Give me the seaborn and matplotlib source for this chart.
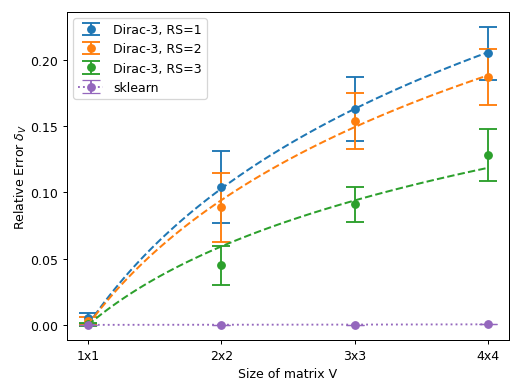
import numpy as np
import pandas as pd
import matplotlib
matplotlib.use("Agg")
import matplotlib.pyplot as plt
import seaborn as sns

sizes = ["1x1", "2x2", "3x3", "4x4"]
matrix_n = [1, 2, 3, 4]

rs1_mean = [0.005, 0.104, 0.163, 0.205]
rs1_err = [0.004, 0.027, 0.024, 0.020]
rs2_mean = [0.003, 0.089, 0.154, 0.187]
rs2_err = [0.003, 0.026, 0.021, 0.021]
rs3_mean = [0.0005, 0.045, 0.091, 0.128]
rs3_err = [0.001, 0.015, 0.013, 0.0195]
sk_mean = [0.0002, 0.0003, 0.0004, 0.0006]
sk_err = [0.0, 0.0, 0.0, 0.0]

labels = ["Dirac-3, RS=1", "Dirac-3, RS=2", "Dirac-3, RS=3", "sklearn"]
colors = ["#1f77b4", "#ff7f0e", "#2ca02c", "#9467bd"]

dpi = 90
fig, ax = plt.subplots(figsize=(523 / dpi, 393 / dpi), dpi=dpi)
fig.subplots_adjust(left=0.128, right=0.973, top=0.967, bottom=0.132)

x = np.arange(len(sizes))
ln_n = np.log(np.array(matrix_n, dtype=float))

# fitted logarithmic trend curves (a * ln n), least squares on the means
xs = np.linspace(0, len(sizes) - 1, 100)
fit_frames = []
for lab, m in zip(labels[:3], [rs1_mean, rs2_mean, rs3_mean]):
    m = np.array(m)
    a = np.sum(m * ln_n) / np.sum(ln_n ** 2)
    fit_frames.append(pd.DataFrame({"x": xs, "y": a * np.log(xs + 1), "series": lab}))
fits = pd.concat(fit_frames)
sns.lineplot(data=fits, x="x", y="y", hue="series", palette=colors[:3],
             linestyle="--", linewidth=1.6, ax=ax, legend=False, zorder=3)

series = [rs1_mean, rs2_mean, rs3_mean]
errs = [rs1_err, rs2_err, rs3_err]
for m, e, lab, c in zip(series, errs, labels[:3], colors[:3]):
    ax.errorbar(x, m, yerr=e, fmt="o", color=c, capsize=7, markersize=6,
                elinewidth=1.5, capthick=1.5, label=lab, zorder=2)
ax.errorbar(x, sk_mean, yerr=sk_err, fmt="o:", color=colors[3], capsize=7,
            markersize=6, linewidth=1.5, label=labels[3], zorder=4)

ax.set_xticks(x)
ax.set_xticklabels(sizes)
ax.set_xlim(-0.157, 3.157)
ax.set_ylim(-0.0113, 0.236)
ax.set_yticks([0.0, 0.05, 0.10, 0.15, 0.20])
ax.set_yticklabels(["0.00", "0.05", "0.10", "0.15", "0.20"])
ax.set_xlabel("Size of matrix V")
ax.set_ylabel(r"Relative Error $\delta_V$", labelpad=1)
ax.legend(loc="upper left")

fig.savefig("out.png", dpi=dpi)
